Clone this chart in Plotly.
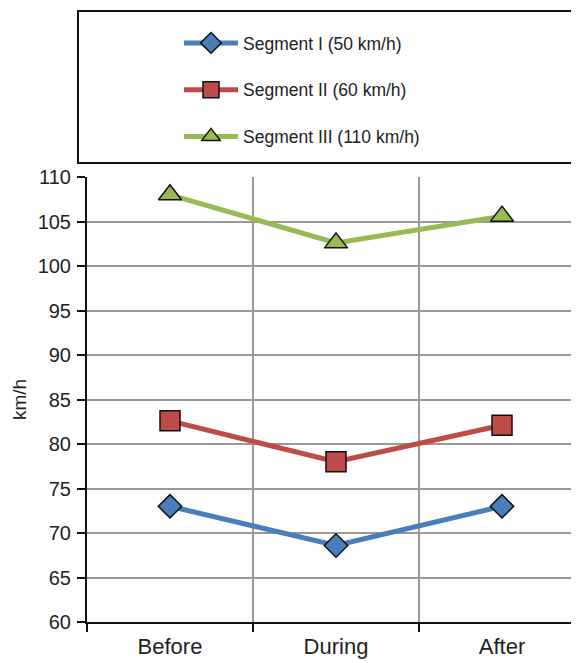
import plotly.graph_objects as go

categories = ["Before", "During", "After"]
series_names = ["Segment I (50 km/h)", "Segment II (60 km/h)", "Segment III (110 km/h)"]
seg1 = [73.0, 68.6, 73.0]
seg2 = [82.6, 78.0, 82.1]
seg3 = [108.0, 102.6, 105.6]

colors = ["#4a7ebb", "#be4b48", "#98b954"]
symbols = ["diamond", "square", "triangle-up"]
sizes = [18, 20, 20]
values = [seg1, seg2, seg3]

# page body has an 8px margin; figure coords = window coords - 8
W, H = 579, 663
L, R, T, B = 79, 8, 169, 49
plot_h = H - T - B
plot_w = W - L - R

xpos = list(range(len(categories)))

fig = go.Figure()
for i in range(3):
    fig.add_trace(go.Scatter(
        x=xpos, y=values[i], name=series_names[i], mode="lines+markers",
        line=dict(color=colors[i], width=5),
        marker=dict(symbol=symbols[i], size=sizes[i], color=colors[i],
                    line=dict(color="#111111", width=1.5)),
        legendgroup=f"g{i}", xaxis="x", yaxis="y",
    ))

fig.add_trace(go.Scatter(x=xpos, y=[None]*3, xaxis="x2", yaxis="y",
                         showlegend=False, hoverinfo="skip"))

def ppx(px):
    return (px - L) / plot_w

def ppy(py):
    return (H - B - py) / plot_h

xr = [-0.5, -0.5 + plot_w / 166.0]

fig.update_layout(
    width=W, height=H,
    margin=dict(l=L, r=R, t=T, b=B),
    paper_bgcolor="white", plot_bgcolor="white",
    font=dict(family="Liberation Sans, Arial, sans-serif", size=15, color="#222222"),
    showlegend=True,
    legend=dict(x=ppx(171), y=ppy(17), xanchor="left", yanchor="top",
                bgcolor="rgba(0,0,0,0)", borderwidth=0, itemwidth=54,
                traceorder="grouped", tracegroupgap=21,
                font=dict(size=17.5, color="#222222")),
    xaxis=dict(range=xr, tickmode="array", tickvals=[-0.5, 0.5, 1.5],
               ticktext=["", "", ""], showgrid=True, gridcolor="#999999", gridwidth=1.5,
               ticks="outside", ticklen=8, tickwidth=2, tickcolor="#111111",
               showline=True, linecolor="#111111", linewidth=2, zeroline=False,
               fixedrange=True),
    xaxis2=dict(range=xr, overlaying="x", side="bottom", tickmode="array",
                tickvals=xpos, ticktext=categories, showgrid=False, showline=False,
                ticks="", zeroline=False, tickfont=dict(size=22, color="#222222"),
                ticklabelstandoff=9),
    yaxis=dict(range=[60, 110], tickmode="linear", tick0=60, dtick=5,
               showgrid=True, gridcolor="#999999", gridwidth=1.5,
               ticks="outside", ticklen=8, tickwidth=2, tickcolor="#111111",
               showline=True, linecolor="#111111", linewidth=2, zeroline=False,
               tickfont=dict(size=20, color="#222222"), ticklabelstandoff=2,
               title=dict(text="km/h", font=dict(size=19, color="#222222"), standoff=6)),
    shapes=[dict(type="rect", xref="paper", yref="paper",
                 x0=ppx(70), x1=ppx(W + 10), y0=ppy(155), y1=ppy(3),
                 line=dict(color="#111111", width=2), fillcolor="rgba(0,0,0,0)")],
)

fig.write_html("out.html")
